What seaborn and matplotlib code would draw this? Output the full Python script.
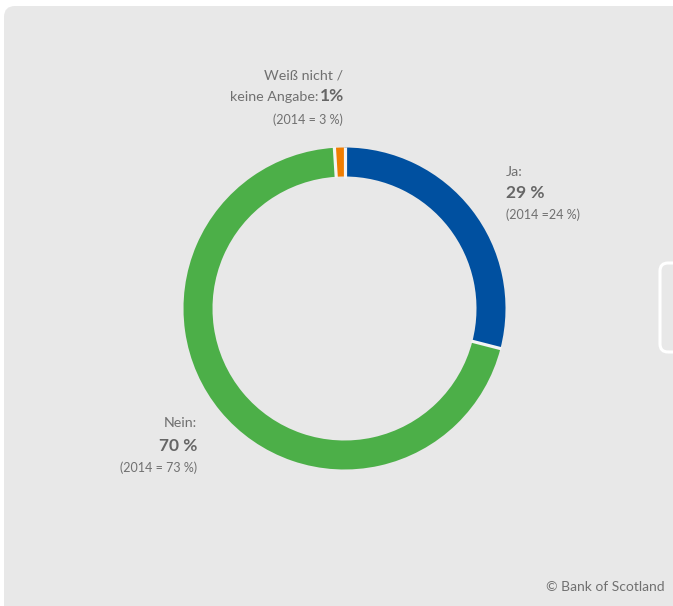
import numpy as np
import matplotlib
matplotlib.use("Agg")
import matplotlib.pyplot as plt
from matplotlib.patches import FancyBboxPatch
import seaborn as sns

# Survey answers (share in percent) and the 2014 comparison values
categories = ["Ja", "Nein", "Weiß nicht / keine Angabe"]
shares = [29, 70, 1]
shares_2014 = [24, 73, 3]
colors = ["#0050a0", "#4caf48", "#f07d00"]

sns.set_theme(style="white")
plt.rcParams["font.family"] = ["Lato", "DejaVu Sans"]

W, H = 673, 606
fig = plt.figure(figsize=(W / 100, H / 100), dpi=100)
fig.patch.set_facecolor("white")
ax = fig.add_axes([0, 0, 1, 1])

def Y(y):
    return H - y

cx, cy, r, ring = 344.5, Y(308.5), 161, 29
ax.pie(shares, colors=colors, startangle=90, counterclock=False,
       center=(cx, cy), radius=r, frame=True,
       wedgeprops=dict(width=ring, linewidth=0, zorder=2))
ax.set_xlim(0, W)
ax.set_ylim(0, H)
ax.set_aspect("equal")
ax.axis("off")

# card background
card = FancyBboxPatch((4, -30), W + 20, Y(6) + 30, boxstyle="round,pad=0,rounding_size=11",
                      fc="#e8e8e8", ec="none", zorder=0)
ax.add_patch(card)
# tab outline at the right edge
tab = FancyBboxPatch((660, Y(352)), 30, 89, boxstyle="round,pad=0,rounding_size=8",
                     fc="none", ec="white", lw=2.2, zorder=1)
ax.add_patch(tab)

# white separators between segments
bounds = np.cumsum([0] + shares)[:-1]
for b in bounds:
    ang = np.deg2rad(90 - 360 * b / sum(shares))
    ax.plot([cx + (r - ring - 1) * np.cos(ang), cx + (r + 1) * np.cos(ang)],
            [cy + (r - ring - 1) * np.sin(ang), cy + (r + 1) * np.sin(ang)],
            color="#f4f4f4", lw=2.3, solid_capstyle="butt", zorder=5)

grey = "#707070"
dark = "#666666"
fs, fsb = 10.3, 12.5

# Weiß nicht / keine Angabe
ax.text(343, Y(76), "Weiß nicht /", ha="right", va="center", fontsize=fs, color=grey)
ax.text(318, Y(97), "keine Angabe:", ha="right", va="center", fontsize=fs, color=grey)
ax.text(320, Y(96), f"{shares[2]}%", ha="left", va="center", fontsize=fsb,
        color=dark, fontweight="bold")
ax.text(343, Y(120), f"(2014 = {shares_2014[2]} %)", ha="right", va="center",
        fontsize=9, color=grey)

# Ja
ax.text(506, Y(172), "Ja:", ha="left", va="center", fontsize=fs, color=grey)
ax.text(506, Y(193), f"{shares[0]} %", ha="left", va="center", fontsize=fsb,
        color=dark, fontweight="bold")
ax.text(506, Y(215), f"(2014 ={shares_2014[0]} %)", ha="left", va="center",
        fontsize=9, color=grey)

# Nein
ax.text(197, Y(423), "Nein:", ha="right", va="center", fontsize=fs, color=grey)
ax.text(197, Y(446), f"{shares[1]} %", ha="right", va="center", fontsize=fsb,
        color=dark, fontweight="bold")
ax.text(197, Y(468), f"(2014 = {shares_2014[1]} %)", ha="right", va="center",
        fontsize=9, color=grey)

ax.text(665, Y(587), "© Bank of Scotland", ha="right", va="center", fontsize=10, color=grey)

fig.savefig("out.png", dpi=100, facecolor="white")
